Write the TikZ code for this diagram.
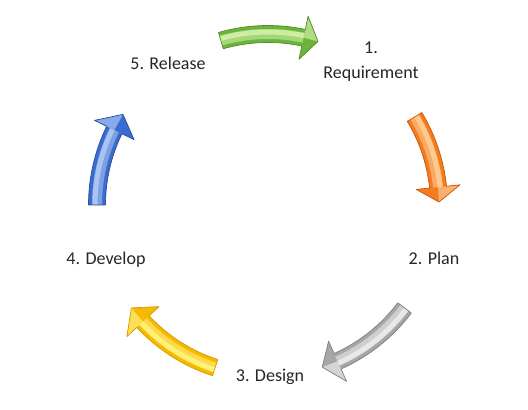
\documentclass[tikz,border=0pt]{standalone}
\usepackage{fontspec}
\setmainfont{Carlito}
\definecolor{grBase}{HTML}{6CB33E}\definecolor{grLight}{HTML}{CDEDA0}\definecolor{grDark}{HTML}{4F8F2A}
\definecolor{orBase}{HTML}{F47B20}\definecolor{orLight}{HTML}{FDC98F}\definecolor{orDark}{HTML}{C9560E}
\definecolor{gyBase}{HTML}{A6A6A6}\definecolor{gyLight}{HTML}{E8E8E8}\definecolor{gyDark}{HTML}{7F7F7F}
\definecolor{ylBase}{HTML}{F7B900}\definecolor{ylLight}{HTML}{FFF07A}\definecolor{ylDark}{HTML}{D39A00}
\definecolor{blBase}{HTML}{3A6CD0}\definecolor{blLight}{HTML}{A9C3F2}\definecolor{blDark}{HTML}{2A4F9E}
\tikzset{
  lbl/.style={font=\fontsize{18}{25}\selectfont, inner sep=0pt, align=center, text=black!85},
}
% R = 171, shaft half width 8.5, head half width 22
\def\Rr{171}\def\Ro{179.5}\def\Ri{162.5}\def\Rh{193}\def\Rhi{149}
\newcommand{\cyclearrow}[4]{%
  \fill[#4Base] ([shift={(C)}]#1:\Ro pt) arc[start angle=#1, end angle=#2, radius=\Ro pt]
    -- ([shift={(C)}]#2:\Rh pt) -- ([shift={(C)}]#3:\Rr pt) -- ([shift={(C)}]#2:\Rhi pt)
    -- ([shift={(C)}]#2:\Ri pt) arc[start angle=#2, end angle=#1, radius=\Ri pt] -- cycle;
  \draw[#4Light!60!#4Base, line width=10pt] ([shift={(C)}]#1:\Rr pt) arc[start angle=#1, end angle=#2, radius=\Rr pt];
  \draw[#4Light, line width=5pt] ([shift={(C)}]#1:173 pt) arc[start angle=#1, end angle=#2, radius=173 pt];
  \fill[#4Light!70!#4Base] ([shift={(C)}]#2:\Rh pt) -- ([shift={(C)}]#3:\Rr pt) -- ([shift={(C)}]#2:\Rr pt) -- cycle;
  \draw[#4Dark, line width=0.7pt, line join=round] ([shift={(C)}]#1:\Ro pt) arc[start angle=#1, end angle=#2, radius=\Ro pt]
    -- ([shift={(C)}]#2:\Rh pt) -- ([shift={(C)}]#3:\Rr pt) -- ([shift={(C)}]#2:\Rhi pt)
    -- ([shift={(C)}]#2:\Ri pt) arc[start angle=#2, end angle=#1, radius=\Ri pt] -- cycle;
}
\begin{document}
\begin{tikzpicture}[x=1pt, y=1pt]
\useasboundingbox[fill=white] (0,0) rectangle (528,410);
\coordinate (C) at (268,205);
% arrows (clockwise cycle)
\cyclearrow{106}{78}{73}{gr}
\cyclearrow{31}{6}{1}{or}
\cyclearrow{-37}{-66}{-71.5}{gy}
\cyclearrow{252}{223}{217}{yl}
\cyclearrow{180}{154}{148}{bl}
% labels
\node[lbl, anchor=base] (req) at (371,331) {1.\\Requirement};
\node[lbl, anchor=base] (plan) at (434,145) {2. Plan};
\node[lbl, anchor=base] (design) at (270,28) {3. Design};
\node[lbl, anchor=base] (develop) at (106,145) {4. Develop};
\node[lbl, anchor=base] (release) at (168,340) {5. Release};
\end{tikzpicture}
\end{document}
